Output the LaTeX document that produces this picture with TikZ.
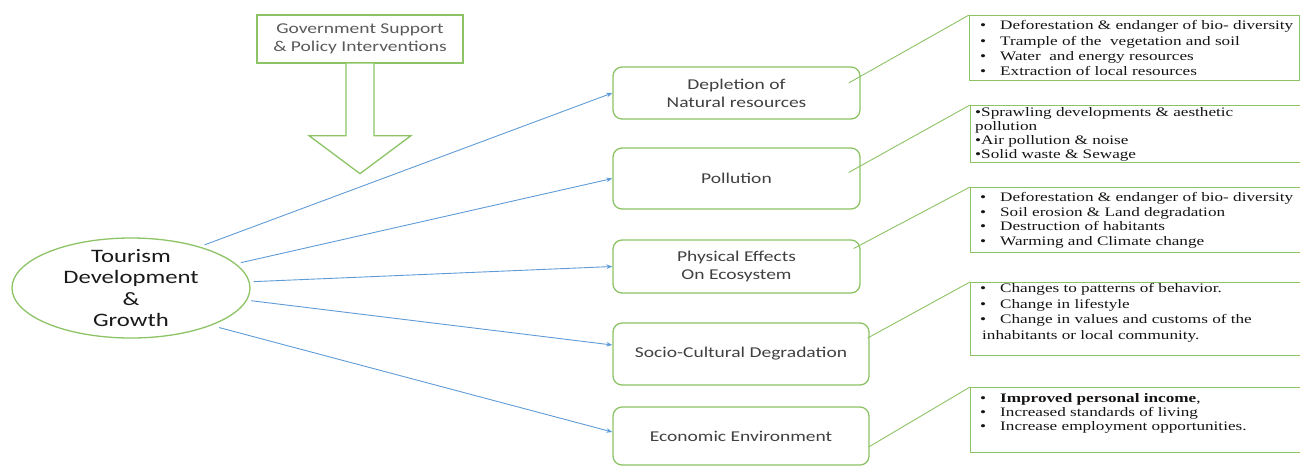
\documentclass[tikz,border=0pt]{standalone}
\usepackage{fontspec}
\setmainfont{Carlito}
\newfontfamily\calw{Carlito}[FakeStretch=1.3]
\newfontfamily\timw{Liberation Serif}[FakeStretch=1.32]
\usetikzlibrary{arrows.meta,calc,shapes.geometric}
\definecolor{grn}{RGB}{140,195,100}
\definecolor{blu}{RGB}{95,155,215}
\definecolor{txtg}{RGB}{64,64,64}
\definecolor{txtl}{RGB}{90,90,90}
\begin{document}
\begin{tikzpicture}[x=1pt,y=-1pt,
  midbox/.style={draw=grn,line width=1.3pt,rounded corners=9pt,fill=white,inner sep=0pt,
    font=\fontsize{15}{18}\calw,text=txtg,align=center},
  govbox/.style={draw=grn,line width=1.3pt,fill=white,inner sep=0pt,
    font=\fontsize{15}{17.5}\calw,text=txtl,align=center},
  rbox/.style={draw=grn,line width=1.3pt,inner sep=0pt,anchor=north west},
  rtext/.style={inner sep=0pt,anchor=north west,align=left,text=black!92},
  blink/.style={draw=blu,line width=0.9pt,-{Stealth[length=6pt,width=4.5pt]}},
  glink/.style={draw=grn,line width=0.9pt},
  govarrow/.style={draw=grn,line width=1.3pt,fill=white,line join=miter},
]
\useasboundingbox (0,0) rectangle (1300,467);

% government box and arrow
\node[govbox,minimum width=206pt,minimum height=48pt] (gov) at (360,39)
  {Government Support\\\& Policy Interventions};
\draw[govarrow] ($(gov.south)+(-14,0)$) -- ++(0,72) -- ++(-37,0)
  -- ($(gov.south)+(0,110)$) -- ($(gov.south)+(51,72)$) -- ++(-37,0)
  -- ($(gov.south)+(14,0)$);

% central ellipse
\node[ellipse,draw=grn,line width=1.3pt,minimum width=238pt,minimum height=100pt,inner sep=0pt] (tdg) at (131,288) {};
\node[inner sep=0pt,align=center,font=\fontsize{19}{21.5}\calw,text=black!90] (tdgt) at (tdg.center)
  {Tourism\\Development\\\&\\Growth};

% middle boxes
\node[midbox,minimum width=247pt,minimum height=52pt] (dep) at (736.5,93) {Depletion of\\Natural resources};
\node[midbox,minimum width=247pt,minimum height=61pt] (pol) at (736.5,178.5) {Pollution};
\node[midbox,minimum width=247pt,minimum height=53pt] (phy) at (736.5,266.5) {Physical Effects\\On Ecosystem};
\node[midbox,minimum width=256pt,minimum height=62pt] (soc) at (741,354) {Socio-Cultural Degradation};
\node[midbox,minimum width=256pt,minimum height=58pt] (eco) at (741,436) {Economic Environment};

% blue arrows
\draw[blink,shorten <=5pt] (tdg.31) -- (dep.west);
\draw[blink,shorten <=5pt] (tdg.13) -- (pol.west);
\draw[blink,shorten <=4pt] (tdg.3) -- (phy.west);
\draw[blink,shorten <=4pt] (tdg.-6.5) -- ($(soc.west)+(0,-9)$);
\draw[blink,shorten <=8pt] (tdg.-25) -- ($(eco.west)+(0,-4)$);

% right boxes
\node[rbox,minimum width=330pt,minimum height=65pt] (r1) at (969,15) {};
\node[rbox,minimum width=330pt,minimum height=57pt] (r2) at (970,105) {};
\node[rbox,minimum width=330pt,minimum height=65pt] (r3) at (970,187) {};
\node[rbox,minimum width=330pt,minimum height=73pt] (r4) at (970,282) {};
\node[rbox,minimum width=330pt,minimum height=65pt] (r5) at (970,387) {};

\node[rtext,font=\fontsize{13}{15.3}\timw] (t1) at (980,20.5)
  {\makebox[20pt][l]{\textbullet}Deforestation \& endanger of bio- diversity\\
   \makebox[20pt][l]{\textbullet}Trample of the\ \ vegetation and soil\\
   \makebox[20pt][l]{\textbullet}Water\ \ and energy resources\\
   \makebox[20pt][l]{\textbullet}Extraction of local resources};
\node[rtext,font=\fontsize{13}{14}\timw] (t2) at (975,107.5)
  {\textbullet Sprawling developments \& aesthetic\\
   pollution\\
   \textbullet Air pollution \& noise\\
   \textbullet Solid waste \& Sewage};
\node[rtext,font=\fontsize{13}{14.5}\timw] (t3) at (980,192.5)
  {\makebox[20pt][l]{\textbullet}Deforestation \& endanger of bio- diversity\\
   \makebox[20pt][l]{\textbullet}Soil erosion \& Land degradation\\
   \makebox[20pt][l]{\textbullet}Destruction of habitants\\
   \makebox[20pt][l]{\textbullet}Warming and Climate change};
\node[rtext,font=\fontsize{13}{15.5}\timw] (t4) at (980,283.5)
  {\makebox[20pt][l]{\textbullet}Changes to patterns of behavior.\\
   \makebox[20pt][l]{\textbullet}Change in lifestyle\\
   \makebox[20pt][l]{\textbullet}Change in values and customs of the\\
   \hspace*{2pt}inhabitants or local community.};
\node[rtext,font=\fontsize{13}{14}\timw] (t5) at (980,393.5)
  {\makebox[20pt][l]{\textbullet}\textbf{Improved personal income},\\
   \makebox[20pt][l]{\textbullet}Increased standards of living\\
   \makebox[20pt][l]{\textbullet}Increase employment opportunities.};

% green connectors
\coordinate (c1) at ($(dep.east)+(-12,-10)$);
\coordinate (c2) at ($(pol.east)+(-12,-6)$);
\coordinate (c3) at ($(phy.east)+(-7,-18)$);
\coordinate (c4) at ($(soc.east)+(-2,-16)$);
\coordinate (c5) at ($(eco.east)+(-1,11)$);
\draw[glink] (c1) -- (r1.north west);
\draw[glink] (c2) -- (r2.north west);
\draw[glink] (c3) -- (r3.north west);
\draw[glink] (c4) -- (r4.north west);
\draw[glink] (c5) -- (r5.north west);
\end{tikzpicture}
\end{document}
